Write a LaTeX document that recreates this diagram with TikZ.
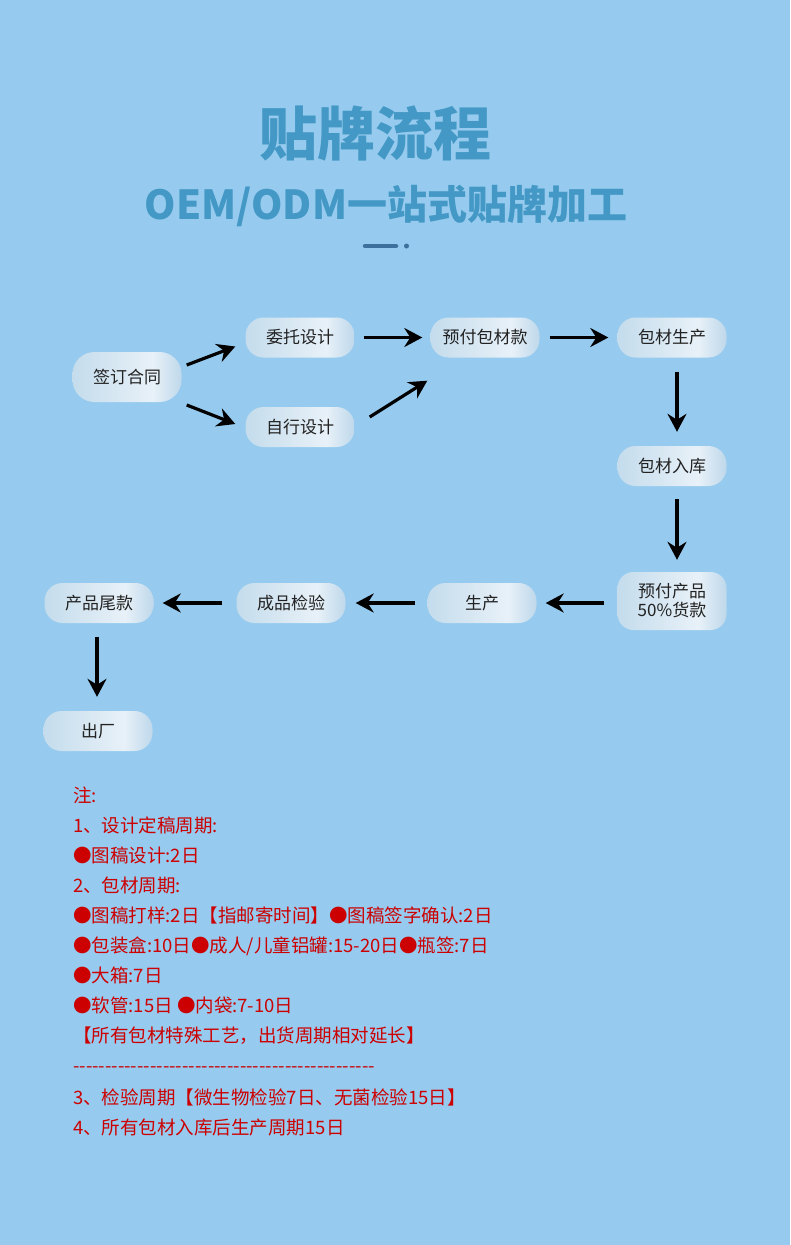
\documentclass[tikz,border=0pt]{standalone}
\usepackage{fontspec}
\setmainfont{Noto Sans CJK SC}
\usetikzlibrary{arrows.meta,calc}
\definecolor{skybg}{RGB}{150,203,239}
\definecolor{titleblue}{RGB}{67,152,197}
\definecolor{barblue}{RGB}{62,112,158}
\definecolor{notered}{RGB}{204,0,0}
\definecolor{textgray}{RGB}{34,34,34}
\definecolor{shadeleft}{RGB}{196,220,236}
\definecolor{shadelight}{RGB}{232,241,248}
\definecolor{shaderight}{RGB}{190,216,235}
\pgfdeclarehorizontalshading{pillshade}{100bp}{%
  color(0bp)=(shadeleft); color(25bp)=(shadeleft); color(62bp)=(shadelight);
  color(75bp)=(shaderight); color(100bp)=(shaderight)}

\begin{document}
\begin{tikzpicture}[x=1pt, y=1pt,
    arr/.style={-{Stealth[length=18pt,width=19pt,inset=6pt]}, line width=3.2pt, black},
    pill/.style={rounded corners=18, shading=pillshade, minimum width=109,
                 minimum height=40, inner sep=0pt, text=textgray,
                 font=\fontsize{17}{19}\selectfont, align=center},
    notetext/.style={text=notered, align=left, inner sep=0pt, anchor=north west,
                     font=\fontsize{18.5}{30}\selectfont}
  ]
  \useasboundingbox[fill=skybg] (0,0) rectangle (790,-1245);

  % heading
  \node[text=titleblue, font=\fontsize{58}{64}\selectfont\bfseries] (title) at (375,-133) {贴牌流程};
  \node[text=titleblue, font=\fontsize{40}{46}\selectfont\bfseries] (subtitle) at (386,-206) {OEM/ODM一站式贴牌加工};
  \draw[barblue, line width=4.5pt, line cap=round] (365,-246) -- (396,-246);
  \fill[barblue] (406.5,-246) circle (2.5);

  % flow
  \node[pill, minimum height=50, rounded corners=22] (sign) at (127,-377) {签订合同};
  \node[pill] (wt) at (300,-337.5) {委托设计};
  \node[pill] (zx) at (300,-427) {自行设计};
  \node[pill] (yf) at (485,-337.5) {预付包材款};
  \node[pill] (bc) at (672,-337.5) {包材生产};
  \node[pill] (rk) at (672,-466) {包材入库};
  \node[pill, minimum height=58, rounded corners=16] (pay) at (672,-601) {预付产品\\50\%货款};
  \node[pill] (sc) at (482,-603) {生产};
  \node[pill] (jy) at (291,-603) {成品检验};
  \node[pill] (wk) at (99,-603) {产品尾款};
  \node[pill] (cc) at (98,-731) {出厂};

  \draw[arr] ($(sign.east)+(5,12)$) -- ($(wt.west)+(-10,-9)$);
  \draw[arr] ($(sign.east)+(5,-28)$) -- ($(zx.west)+(-10,3)$);
  \draw[arr] ([xshift=9]wt.east) -- ([xshift=-8]yf.west);
  \draw[arr] ($(zx.east)+(15,10)$) -- ($(yf.south west)+(-3,-23)$);
  \draw[arr] ([xshift=10]yf.east) -- ([xshift=-9]bc.west);
  \draw[arr] ($(bc.south)+(5,-14)$) -- ($(rk.north)+(5,14)$);
  \draw[arr] ($(rk.south)+(5,-13)$) -- ($(pay.north)+(5,12)$);
  \draw[arr] ([xshift=-13]pay.west |- sc.east) -- ([xshift=9]sc.east);
  \draw[arr] ([xshift=-12]sc.west) -- ([xshift=10]jy.east);
  \draw[arr] ([xshift=-14]jy.west) -- ([xshift=9]wk.east);
  \draw[arr] ($(wk.south)+(-2,-14)$) -- ($(cc.north)+(-1,14)$);

  % notes
  \node[notetext] (notes) at (73,-787) {%
    注:\\
    1、设计定稿周期:\\
    ●图稿设计:2日\\
    2、包材周期:\\
    ●图稿打样:2日【指邮寄时间】●图稿签字确认:2日\\
    ●包装盒:10日●成人/儿童铝罐:15-20日●瓶签:7日\\
    ●大箱:7日\\
    ●软管:15日 ●内袋:7-10日\\
    【所有包材特殊工艺，出货周期相对延长】\\
    \foreach \k in {1,...,47}{-}\\[2pt]
    3、检验周期【微生物检验7日、无菌检验15日】\\
    4、所有包材入库后生产周期15日};
\end{tikzpicture}
\end{document}
